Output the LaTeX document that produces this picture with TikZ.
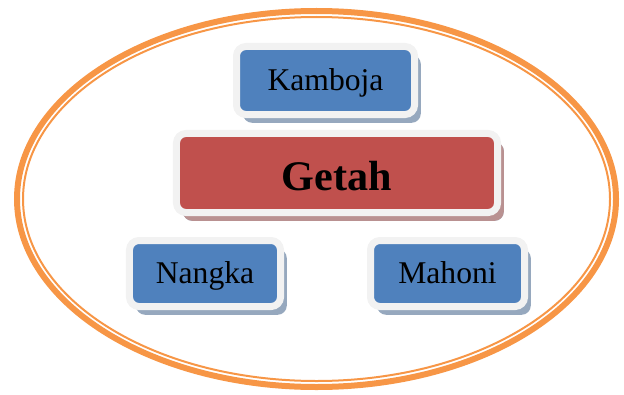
\documentclass[tikz,border=0pt]{standalone}
\usepackage{fontspec}
\setmainfont{Liberation Serif}
\usetikzlibrary{shadows}
\definecolor{leafblue}{RGB}{79,129,189}
\definecolor{sapred}{RGB}{192,80,77}
\definecolor{rimgray}{RGB}{242,242,242}
\definecolor{shadeblue}{RGB}{150,168,190}
\definecolor{shadered}{RGB}{185,145,145}
\definecolor{ringorange}{RGB}{247,150,70}
\tikzset{
  leaf/.style={fill=leafblue,draw=rimgray,line width=0.21cm,rounded corners=8pt,
    minimum height=1.98cm,font=\fontsize{27}{30}\selectfont,
    text height=17.8pt,text depth=0pt,
    general shadow={fill=shadeblue,shadow xshift=0.19cm,shadow yshift=-0.25cm}},
  core/.style={leaf,fill=sapred,font=\fontsize{36}{40}\selectfont\bfseries,
    text height=29.5pt,
    general shadow={fill=shadered,shadow xshift=0.19cm,shadow yshift=-0.25cm}},
}
\begin{document}
\begin{tikzpicture}[x=0.03cm,y=-0.03cm]
  \useasboundingbox (0,0) rectangle (624,394);
  % ring
  \draw[ringorange,line width=0.18cm] (316.5,199) ellipse [x radius=299.5,y radius=188];
  \draw[ringorange,line width=0.06cm] (316.5,199) ellipse [x radius=293.5,y radius=182];
  % boxes
  \node[leaf,minimum width=5.34cm,minimum height=2.04cm] (kamboja) at (325.5,80.5) {Kamboja};
  \node[core,minimum width=9.63cm,minimum height=2.37cm] (getah) at (337,173) {Getah};
  \node[leaf,minimum width=4.53cm] (nangka) at (205,273.5) {Nangka};
  \node[leaf,minimum width=4.62cm] (mahoni) at (447.5,273.5) {Mahoni};
\end{tikzpicture}
\end{document}
